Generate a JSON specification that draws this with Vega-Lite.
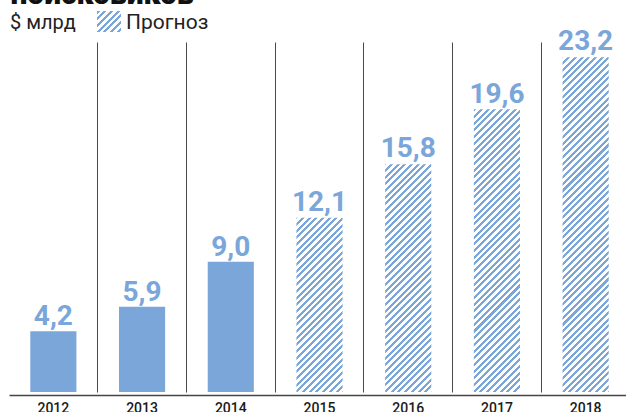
{
  "$schema": "https://vega.github.io/schema/vega-lite/v6.json",
  "width": 621,
  "height": 350,
  "autosize": {"type": "none"},
  "padding": {"left": 9, "top": 42, "right": 0, "bottom": 20},
  "background": "white",
  "config": {
    "view": {"stroke": null},
    "locale": {"number": {"decimal": ",", "thousands": " ", "grouping": [3], "currency": ["", " $"]}}
  },
  "data": {
    "values": [
      {"year": "2012", "value": 4.2, "type": "Факт"},
      {"year": "2013", "value": 5.9, "type": "Факт"},
      {"year": "2014", "value": 9.0, "type": "Факт"},
      {"year": "2015", "value": 12.1, "type": "Прогноз"},
      {"year": "2016", "value": 15.8, "type": "Прогноз"},
      {"year": "2017", "value": 19.6, "type": "Прогноз"},
      {"year": "2018", "value": 23.2, "type": "Прогноз"}
    ]
  },
  "encoding": {
    "x": {
      "field": "year",
      "type": "ordinal",
      "scale": {"paddingInner": 0.48, "paddingOuter": 0.24},
      "axis": {
        "title": "поисковиков",
        "titleFont": "Roboto",
        "titleFontSize": 30,
        "titleFontWeight": 900,
        "titleColor": "#111111",
        "titleAngle": 0,
        "titleX": 1,
        "titleY": -391.5,
        "titleAlign": "left",
        "titleBaseline": "alphabetic",
        "labelAngle": 0,
        "labelFont": "Roboto",
        "labelFontSize": 14,
        "labelFontWeight": 500,
        "labelColor": "#1a1a1a",
        "labelPadding": 6,
        "ticks": false,
        "tickSize": 0,
        "domainColor": "#444444",
        "domainWidth": 1.5,
        "offset": 3,
        "grid": true,
        "bandPosition": -0.4615,
        "gridColor": "#4a4a4a",
        "gridWidth": 1,
        "gridOpacity": {"condition": {"test": "datum.value === '2012'", "value": 0}, "value": 1}
      }
    }
  },
  "layer": [
    {
      "transform": [{"filter": "datum.type === 'Факт'"}],
      "mark": {"type": "bar", "fill": "#7aa6da"},
      "encoding": {
        "y": {"field": "value", "type": "quantitative", "scale": {"domain": [0, 24.2], "nice": false}, "axis": null}
      }
    },
    {
      "transform": [{"filter": "datum.type === 'Прогноз'"}],
      "mark": {
        "type": "bar",
        "fill": {
          "gradient": "linear", "x1": 0, "y1": 0, "x2": 0.1488, "y2": 1.129,
          "stops": [
            {"offset":0,"color":"#7aa6da"},{"offset":0.0075,"color":"#7aa6da"},{"offset":0.0075,"color":"#fff"},{"offset":0.0167,"color":"#fff"},
            {"offset":0.0167,"color":"#7aa6da"},{"offset":0.0242,"color":"#7aa6da"},{"offset":0.0242,"color":"#fff"},{"offset":0.0333,"color":"#fff"},
            {"offset":0.0333,"color":"#7aa6da"},{"offset":0.0408,"color":"#7aa6da"},{"offset":0.0408,"color":"#fff"},{"offset":0.05,"color":"#fff"},
            {"offset":0.05,"color":"#7aa6da"},{"offset":0.0575,"color":"#7aa6da"},{"offset":0.0575,"color":"#fff"},{"offset":0.0667,"color":"#fff"},
            {"offset":0.0667,"color":"#7aa6da"},{"offset":0.0742,"color":"#7aa6da"},{"offset":0.0742,"color":"#fff"},{"offset":0.0833,"color":"#fff"},
            {"offset":0.0833,"color":"#7aa6da"},{"offset":0.0908,"color":"#7aa6da"},{"offset":0.0908,"color":"#fff"},{"offset":0.1,"color":"#fff"},
            {"offset":0.1,"color":"#7aa6da"},{"offset":0.1075,"color":"#7aa6da"},{"offset":0.1075,"color":"#fff"},{"offset":0.1167,"color":"#fff"},
            {"offset":0.1167,"color":"#7aa6da"},{"offset":0.1242,"color":"#7aa6da"},{"offset":0.1242,"color":"#fff"},{"offset":0.1333,"color":"#fff"},
            {"offset":0.1333,"color":"#7aa6da"},{"offset":0.1408,"color":"#7aa6da"},{"offset":0.1408,"color":"#fff"},{"offset":0.15,"color":"#fff"},
            {"offset":0.15,"color":"#7aa6da"},{"offset":0.1575,"color":"#7aa6da"},{"offset":0.1575,"color":"#fff"},{"offset":0.1667,"color":"#fff"},
            {"offset":0.1667,"color":"#7aa6da"},{"offset":0.1742,"color":"#7aa6da"},{"offset":0.1742,"color":"#fff"},{"offset":0.1833,"color":"#fff"},
            {"offset":0.1833,"color":"#7aa6da"},{"offset":0.1908,"color":"#7aa6da"},{"offset":0.1908,"color":"#fff"},{"offset":0.2,"color":"#fff"},
            {"offset":0.2,"color":"#7aa6da"},{"offset":0.2075,"color":"#7aa6da"},{"offset":0.2075,"color":"#fff"},{"offset":0.2167,"color":"#fff"},
            {"offset":0.2167,"color":"#7aa6da"},{"offset":0.2242,"color":"#7aa6da"},{"offset":0.2242,"color":"#fff"},{"offset":0.2333,"color":"#fff"},
            {"offset":0.2333,"color":"#7aa6da"},{"offset":0.2408,"color":"#7aa6da"},{"offset":0.2408,"color":"#fff"},{"offset":0.25,"color":"#fff"},
            {"offset":0.25,"color":"#7aa6da"},{"offset":0.2575,"color":"#7aa6da"},{"offset":0.2575,"color":"#fff"},{"offset":0.2667,"color":"#fff"},
            {"offset":0.2667,"color":"#7aa6da"},{"offset":0.2742,"color":"#7aa6da"},{"offset":0.2742,"color":"#fff"},{"offset":0.2833,"color":"#fff"},
            {"offset":0.2833,"color":"#7aa6da"},{"offset":0.2908,"color":"#7aa6da"},{"offset":0.2908,"color":"#fff"},{"offset":0.3,"color":"#fff"},
            {"offset":0.3,"color":"#7aa6da"},{"offset":0.3075,"color":"#7aa6da"},{"offset":0.3075,"color":"#fff"},{"offset":0.3167,"color":"#fff"},
            {"offset":0.3167,"color":"#7aa6da"},{"offset":0.3242,"color":"#7aa6da"},{"offset":0.3242,"color":"#fff"},{"offset":0.3333,"color":"#fff"},
            {"offset":0.3333,"color":"#7aa6da"},{"offset":0.3408,"color":"#7aa6da"},{"offset":0.3408,"color":"#fff"},{"offset":0.35,"color":"#fff"},
            {"offset":0.35,"color":"#7aa6da"},{"offset":0.3575,"color":"#7aa6da"},{"offset":0.3575,"color":"#fff"},{"offset":0.3667,"color":"#fff"},
            {"offset":0.3667,"color":"#7aa6da"},{"offset":0.3742,"color":"#7aa6da"},{"offset":0.3742,"color":"#fff"},{"offset":0.3833,"color":"#fff"},
            {"offset":0.3833,"color":"#7aa6da"},{"offset":0.3908,"color":"#7aa6da"},{"offset":0.3908,"color":"#fff"},{"offset":0.4,"color":"#fff"},
            {"offset":0.4,"color":"#7aa6da"},{"offset":0.4075,"color":"#7aa6da"},{"offset":0.4075,"color":"#fff"},{"offset":0.4167,"color":"#fff"},
            {"offset":0.4167,"color":"#7aa6da"},{"offset":0.4242,"color":"#7aa6da"},{"offset":0.4242,"color":"#fff"},{"offset":0.4333,"color":"#fff"},
            {"offset":0.4333,"color":"#7aa6da"},{"offset":0.4408,"color":"#7aa6da"},{"offset":0.4408,"color":"#fff"},{"offset":0.45,"color":"#fff"},
            {"offset":0.45,"color":"#7aa6da"},{"offset":0.4575,"color":"#7aa6da"},{"offset":0.4575,"color":"#fff"},{"offset":0.4667,"color":"#fff"},
            {"offset":0.4667,"color":"#7aa6da"},{"offset":0.4742,"color":"#7aa6da"},{"offset":0.4742,"color":"#fff"},{"offset":0.4833,"color":"#fff"},
            {"offset":0.4833,"color":"#7aa6da"},{"offset":0.4908,"color":"#7aa6da"},{"offset":0.4908,"color":"#fff"},{"offset":0.5,"color":"#fff"},
            {"offset":0.5,"color":"#7aa6da"},{"offset":0.5075,"color":"#7aa6da"},{"offset":0.5075,"color":"#fff"},{"offset":0.5167,"color":"#fff"},
            {"offset":0.5167,"color":"#7aa6da"},{"offset":0.5242,"color":"#7aa6da"},{"offset":0.5242,"color":"#fff"},{"offset":0.5333,"color":"#fff"},
            {"offset":0.5333,"color":"#7aa6da"},{"offset":0.5408,"color":"#7aa6da"},{"offset":0.5408,"color":"#fff"},{"offset":0.55,"color":"#fff"},
            {"offset":0.55,"color":"#7aa6da"},{"offset":0.5575,"color":"#7aa6da"},{"offset":0.5575,"color":"#fff"},{"offset":0.5667,"color":"#fff"},
            {"offset":0.5667,"color":"#7aa6da"},{"offset":0.5742,"color":"#7aa6da"},{"offset":0.5742,"color":"#fff"},{"offset":0.5833,"color":"#fff"},
            {"offset":0.5833,"color":"#7aa6da"},{"offset":0.5908,"color":"#7aa6da"},{"offset":0.5908,"color":"#fff"},{"offset":0.6,"color":"#fff"},
            {"offset":0.6,"color":"#7aa6da"},{"offset":0.6075,"color":"#7aa6da"},{"offset":0.6075,"color":"#fff"},{"offset":0.6167,"color":"#fff"},
            {"offset":0.6167,"color":"#7aa6da"},{"offset":0.6242,"color":"#7aa6da"},{"offset":0.6242,"color":"#fff"},{"offset":0.6333,"color":"#fff"},
            {"offset":0.6333,"color":"#7aa6da"},{"offset":0.6408,"color":"#7aa6da"},{"offset":0.6408,"color":"#fff"},{"offset":0.65,"color":"#fff"},
            {"offset":0.65,"color":"#7aa6da"},{"offset":0.6575,"color":"#7aa6da"},{"offset":0.6575,"color":"#fff"},{"offset":0.6667,"color":"#fff"},
            {"offset":0.6667,"color":"#7aa6da"},{"offset":0.6742,"color":"#7aa6da"},{"offset":0.6742,"color":"#fff"},{"offset":0.6833,"color":"#fff"},
            {"offset":0.6833,"color":"#7aa6da"},{"offset":0.6908,"color":"#7aa6da"},{"offset":0.6908,"color":"#fff"},{"offset":0.7,"color":"#fff"},
            {"offset":0.7,"color":"#7aa6da"},{"offset":0.7075,"color":"#7aa6da"},{"offset":0.7075,"color":"#fff"},{"offset":0.7167,"color":"#fff"},
            {"offset":0.7167,"color":"#7aa6da"},{"offset":0.7242,"color":"#7aa6da"},{"offset":0.7242,"color":"#fff"},{"offset":0.7333,"color":"#fff"},
            {"offset":0.7333,"color":"#7aa6da"},{"offset":0.7408,"color":"#7aa6da"},{"offset":0.7408,"color":"#fff"},{"offset":0.75,"color":"#fff"},
            {"offset":0.75,"color":"#7aa6da"},{"offset":0.7575,"color":"#7aa6da"},{"offset":0.7575,"color":"#fff"},{"offset":0.7667,"color":"#fff"},
            {"offset":0.7667,"color":"#7aa6da"},{"offset":0.7742,"color":"#7aa6da"},{"offset":0.7742,"color":"#fff"},{"offset":0.7833,"color":"#fff"},
            {"offset":0.7833,"color":"#7aa6da"},{"offset":0.7908,"color":"#7aa6da"},{"offset":0.7908,"color":"#fff"},{"offset":0.8,"color":"#fff"},
            {"offset":0.8,"color":"#7aa6da"},{"offset":0.8075,"color":"#7aa6da"},{"offset":0.8075,"color":"#fff"},{"offset":0.8167,"color":"#fff"},
            {"offset":0.8167,"color":"#7aa6da"},{"offset":0.8242,"color":"#7aa6da"},{"offset":0.8242,"color":"#fff"},{"offset":0.8333,"color":"#fff"},
            {"offset":0.8333,"color":"#7aa6da"},{"offset":0.8408,"color":"#7aa6da"},{"offset":0.8408,"color":"#fff"},{"offset":0.85,"color":"#fff"},
            {"offset":0.85,"color":"#7aa6da"},{"offset":0.8575,"color":"#7aa6da"},{"offset":0.8575,"color":"#fff"},{"offset":0.8667,"color":"#fff"},
            {"offset":0.8667,"color":"#7aa6da"},{"offset":0.8742,"color":"#7aa6da"},{"offset":0.8742,"color":"#fff"},{"offset":0.8833,"color":"#fff"},
            {"offset":0.8833,"color":"#7aa6da"},{"offset":0.8908,"color":"#7aa6da"},{"offset":0.8908,"color":"#fff"},{"offset":0.9,"color":"#fff"},
            {"offset":0.9,"color":"#7aa6da"},{"offset":0.9075,"color":"#7aa6da"},{"offset":0.9075,"color":"#fff"},{"offset":0.9167,"color":"#fff"},
            {"offset":0.9167,"color":"#7aa6da"},{"offset":0.9242,"color":"#7aa6da"},{"offset":0.9242,"color":"#fff"},{"offset":0.9333,"color":"#fff"},
            {"offset":0.9333,"color":"#7aa6da"},{"offset":0.9408,"color":"#7aa6da"},{"offset":0.9408,"color":"#fff"},{"offset":0.95,"color":"#fff"},
            {"offset":0.95,"color":"#7aa6da"},{"offset":0.9575,"color":"#7aa6da"},{"offset":0.9575,"color":"#fff"},{"offset":0.9667,"color":"#fff"},
            {"offset":0.9667,"color":"#7aa6da"},{"offset":0.9742,"color":"#7aa6da"},{"offset":0.9742,"color":"#fff"},{"offset":0.9833,"color":"#fff"},
            {"offset":0.9833,"color":"#7aa6da"},{"offset":0.9908,"color":"#7aa6da"},{"offset":0.9908,"color":"#fff"},{"offset":1,"color":"#fff"}
          ]
        }
      },
      "encoding": {
        "y": {"datum": 24.2, "type": "quantitative", "axis": null},
        "y2": {"datum": 0}
      }
    },
    {
      "transform": [{"filter": "datum.type === 'Прогноз'"}],
      "mark": {"type": "bar", "fill": "#ffffff", "stroke": "#ffffff", "strokeWidth": 1.5},
      "encoding": {
        "y": {"field": "value", "type": "quantitative", "axis": null},
        "y2": {"datum": 24.2}
      }
    },
    {
      "transform": [{"filter": "datum.type === 'Прогноз'"}],
      "mark": {
        "type": "bar",
        "fill": {
          "gradient": "linear", "x1": 0, "y1": 0, "x2": 1.107, "y2": 0.968,
          "stops": [
            {"offset":0,"color":"#7aa6da"},{"offset":0.0643,"color":"#7aa6da"},{"offset":0.0643,"color":"#fff"},{"offset":0.1429,"color":"#fff"},
            {"offset":0.1429,"color":"#7aa6da"},{"offset":0.2072,"color":"#7aa6da"},{"offset":0.2072,"color":"#fff"},{"offset":0.2857,"color":"#fff"},
            {"offset":0.2857,"color":"#7aa6da"},{"offset":0.35,"color":"#7aa6da"},{"offset":0.35,"color":"#fff"},{"offset":0.4286,"color":"#fff"},
            {"offset":0.4286,"color":"#7aa6da"},{"offset":0.4929,"color":"#7aa6da"},{"offset":0.4929,"color":"#fff"},{"offset":0.5714,"color":"#fff"},
            {"offset":0.5714,"color":"#7aa6da"},{"offset":0.6357,"color":"#7aa6da"},{"offset":0.6357,"color":"#fff"},{"offset":0.7143,"color":"#fff"},
            {"offset":0.7143,"color":"#7aa6da"},{"offset":0.7786,"color":"#7aa6da"},{"offset":0.7786,"color":"#fff"},{"offset":0.8571,"color":"#fff"},
            {"offset":0.8571,"color":"#7aa6da"},{"offset":0.9214,"color":"#7aa6da"},{"offset":0.9214,"color":"#fff"},{"offset":1,"color":"#fff"}
          ]
        }
      },
      "encoding": {
        "y": {"datum": 0, "type": "quantitative", "axis": null},
        "y2": {"datum": 0},
        "stroke": {
          "field": "type",
          "type": "nominal",
          "scale": {"range": ["transparent"]},
          "legend": {
            "title": null,
            "orient": "none",
            "legendX": 88,
            "legendY": -31,
            "padding": 0,
            "symbolType": "M-1,-1H1V0.75H-1Z",
            "symbolSize": 576,
            "symbolStrokeWidth": 0,
            "labelFont": "Roboto",
            "labelFontSize": 21,
            "labelColor": "#222222",
            "labelOffset": 5
          }
        }
      }
    },
    {
      "mark": {"type": "text", "font": "Roboto", "fontWeight": 700, "fontSize": 28, "baseline": "alphabetic", "dy": -6},
      "encoding": {
        "y": {"field": "value", "type": "quantitative", "axis": null},
        "text": {"field": "value", "type": "quantitative", "format": ".1f"},
        "color": {
          "field": "type",
          "type": "nominal",
          "scale": {"domain": ["Факт", "Прогноз"], "range": ["#7aa6da", "#7aa6da"]},
          "legend": {
            "title": null,
            "values": ["Факт"],
            "labelExpr": "'$ млрд'",
            "orient": "none",
            "legendX": -23,
            "legendY": -31,
            "padding": 0,
            "symbolType": "square",
            "symbolSize": 576,
            "symbolOpacity": 0,
            "symbolStrokeWidth": 0,
            "labelFont": "Roboto",
            "labelFontSize": 20,
            "labelColor": "#222222",
            "labelOffset": 0
          }
        }
      }
    }
  ]
}
